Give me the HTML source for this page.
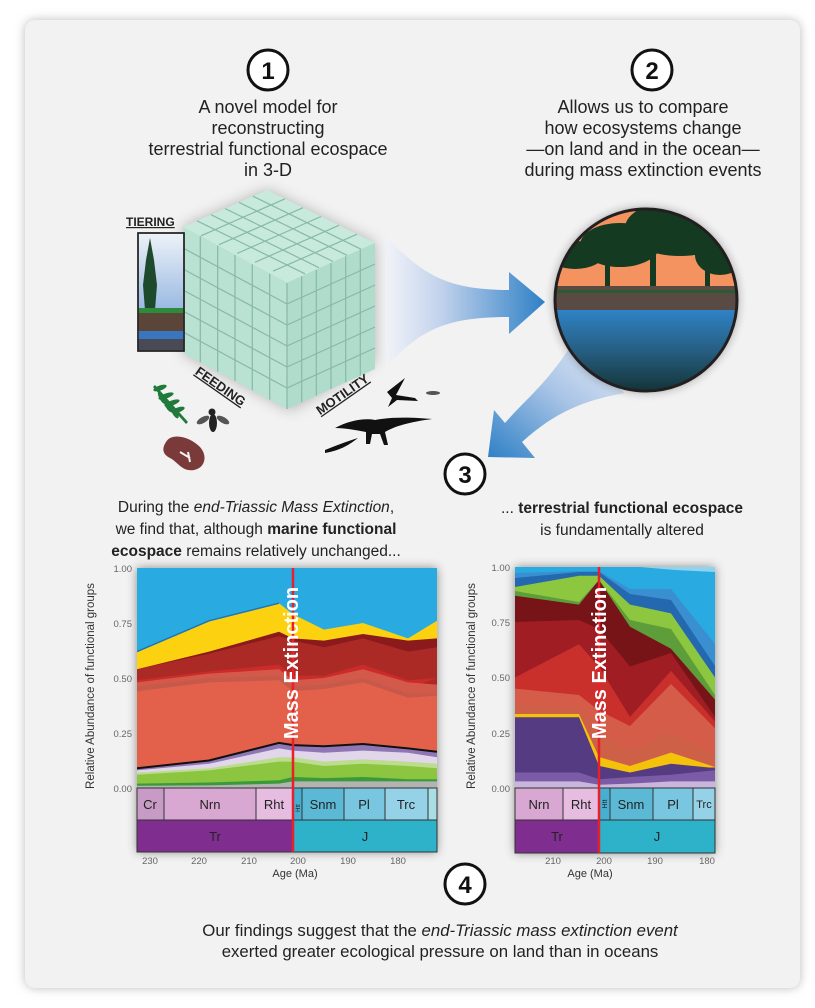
<!DOCTYPE html>
<html><head><meta charset="utf-8"><style>
html,body{margin:0;padding:0;background:#fff;}
svg{display:block;}
text{font-family:"Liberation Sans",Arial,sans-serif;}
</style></head><body>
<svg width="815" height="1008" viewBox="0 0 815 1008" xmlns="http://www.w3.org/2000/svg">
<defs>
<filter id="sh" x="-10%" y="-10%" width="120%" height="120%"><feGaussianBlur stdDeviation="5"/></filter>
<filter id="sh2" x="-20%" y="-20%" width="140%" height="140%"><feGaussianBlur stdDeviation="7"/></filter>
<linearGradient id="ar1" x1="0" y1="0" x2="1" y2="0"><stop offset="0" stop-color="#f2f4f8"/><stop offset="0.35" stop-color="#c2d2ec"/><stop offset="1" stop-color="#2e80c6"/></linearGradient>
<linearGradient id="ar2" x1="1" y1="0" x2="0" y2="1"><stop offset="0" stop-color="#e6edf7"/><stop offset="0.45" stop-color="#a9c4e6"/><stop offset="1" stop-color="#2e80c6"/></linearGradient>
<linearGradient id="sky" x1="0" y1="0" x2="0" y2="1"><stop offset="0" stop-color="#eef2f8"/><stop offset="1" stop-color="#6b9bd6"/></linearGradient>
<linearGradient id="water" x1="0" y1="0" x2="0" y2="1"><stop offset="0" stop-color="#2f82c6"/><stop offset="0.5" stop-color="#255a7a"/><stop offset="1" stop-color="#0f2a28"/></linearGradient>
<clipPath id="cc"><circle cx="646" cy="300" r="91"/></clipPath>
<clipPath id="p1"><rect x="137" y="568" width="300" height="220"/></clipPath>
<clipPath id="p2"><rect x="515" y="567" width="200" height="221"/></clipPath>
</defs>
<rect x="25" y="20" width="775" height="968" rx="10" fill="#bbb" filter="url(#sh)"/>
<rect x="25" y="20" width="775" height="968" rx="10" fill="#f2f2f2"/>

<g fill="#fff" stroke="#111" stroke-width="3">
<circle cx="268" cy="70" r="20"/><circle cx="652" cy="70" r="20"/><circle cx="465" cy="474" r="20"/><circle cx="465" cy="884" r="20"/>
</g>
<g font-size="24" font-weight="bold" text-anchor="middle" fill="#111">
<text x="268" y="79">1</text><text x="652" y="79">2</text><text x="465" y="483">3</text><text x="465" y="893">4</text>
</g>

<g text-anchor="middle" fill="#222">
<g font-size="18">
<text x="268" y="113">A novel model for</text><text x="268" y="134">reconstructing</text><text x="268" y="155">terrestrial functional ecospace</text><text x="268" y="176">in 3-D</text>
<text x="643" y="113">Allows us to compare</text><text x="643" y="134">how ecosystems change</text><text x="643" y="155">—on land and in the ocean—</text><text x="643" y="176">during mass extinction events</text>
</g>
<g font-size="15.5">
<text x="256" y="512">During the <tspan font-style="italic">end-Triassic Mass Extinction</tspan>,</text>
<text x="256" y="534">we find that, although <tspan font-weight="bold">marine functional</tspan></text>
<text x="256" y="556"><tspan font-weight="bold">ecospace</tspan> remains relatively unchanged...</text>
<text x="622" y="513">... <tspan font-weight="bold">terrestrial functional ecospace</tspan></text>
<text x="622" y="535">is fundamentally altered</text>
</g>
<g font-size="16.8">
<text x="440" y="936">Our findings suggest that the <tspan font-style="italic">end-Triassic mass extinction event</tspan></text>
<text x="440" y="957">exerted greater ecological pressure on land than in oceans</text>
</g>
</g>

<path d="M385,236 C420,270 440,290 509,290 L509,272 L545,302 L509,334 L509,317 C445,317 420,330 385,368 Z" fill="url(#ar1)"/>
<path d="M568,350 C545,385 525,400 505,423 L494,410 L488,457 L535,458 L522,442 C555,412 585,400 625,393 Z" fill="url(#ar2)"/>

<polygon points="267,190 183,227 183,353 290,410 375,362 375,243" fill="#888" filter="url(#sh2)" opacity="0.6"/>
<polygon points="267,190 183,227 287,283 375,243" fill="#c8eadd"/>
<polygon points="183,227 287,283 287,409 183,353" fill="#b9e2d3"/>
<polygon points="287,283 375,243 375,369 287,409" fill="#b0dccc"/>
<g stroke="#88b8a8" stroke-width="1.2" fill="none">
<line x1="253" y1="196.2" x2="361" y2="249.2"/><line x1="239" y1="202.3" x2="347" y2="255.3"/><line x1="225" y1="208.5" x2="333" y2="261.5"/><line x1="211" y1="214.7" x2="319" y2="267.7"/><line x1="197" y1="220.8" x2="305" y2="273.8"/>
<line x1="285" y1="198.8" x2="201" y2="235.8"/><line x1="303" y1="207.7" x2="219" y2="244.7"/><line x1="321" y1="216.5" x2="237" y2="253.5"/><line x1="339" y1="225.3" x2="255" y2="262.3"/><line x1="357" y1="234.2" x2="273" y2="271.2"/>
<line x1="200.3" y1="236.3" x2="200.3" y2="362.3"/><line x1="217.7" y1="245.7" x2="217.7" y2="371.7"/><line x1="235" y1="255" x2="235" y2="381"/><line x1="252.3" y1="264.3" x2="252.3" y2="390.3"/><line x1="269.7" y1="273.7" x2="269.7" y2="399.7"/>
<line x1="183" y1="248" x2="287" y2="304"/><line x1="183" y1="269" x2="287" y2="325"/><line x1="183" y1="290" x2="287" y2="346"/><line x1="183" y1="311" x2="287" y2="367"/><line x1="183" y1="332" x2="287" y2="388"/>
<line x1="301.7" y1="276.3" x2="301.7" y2="402.3"/><line x1="316.3" y1="269.7" x2="316.3" y2="395.7"/><line x1="331" y1="263" x2="331" y2="389"/><line x1="345.7" y1="256.3" x2="345.7" y2="382.3"/><line x1="360.3" y1="249.7" x2="360.3" y2="375.7"/>
<line x1="287" y1="304" x2="375" y2="264"/><line x1="287" y1="325" x2="375" y2="285"/><line x1="287" y1="346" x2="375" y2="306"/><line x1="287" y1="367" x2="375" y2="327"/><line x1="287" y1="388" x2="375" y2="348"/>
<line x1="287" y1="283" x2="287" y2="409"/>
</g>
<rect x="138" y="233" width="46" height="118" fill="url(#sky)" stroke="#222" stroke-width="1.5"/>
<polygon points="150,238 146,260 143,285 145,310 155,310 157,285 154,260" fill="#1d4a2c"/>
<rect x="138" y="308" width="46" height="5" fill="#2f8a3a"/>
<rect x="138" y="313" width="46" height="18" fill="#5a4538"/>
<rect x="138" y="331" width="46" height="8" fill="#3a76c0"/>
<rect x="138" y="339" width="46" height="12" fill="#4a4a56"/>
<rect x="138" y="233" width="46" height="118" fill="none" stroke="#222" stroke-width="1.5"/>
<text x="126" y="226" font-size="12" font-weight="bold" fill="#222" text-decoration="underline">TIERING</text>
<text transform="translate(218,390) rotate(35)" text-anchor="middle" font-size="13" font-weight="bold" fill="#222" text-decoration="underline">FEEDING</text>
<text transform="translate(345,398) rotate(-35)" text-anchor="middle" font-size="13" font-weight="bold" fill="#222" text-decoration="underline">MOTILITY</text>
<g fill="#1f7a3c"><path d="M155,385 L188,422 L186,424 L153,387 Z"/>
<ellipse cx="160" cy="388" rx="7" ry="2.5" transform="rotate(-20 160 388)"/><ellipse cx="166" cy="396" rx="8" ry="2.5" transform="rotate(-20 166 396)"/><ellipse cx="172" cy="403" rx="8" ry="2.5" transform="rotate(-20 172 403)"/><ellipse cx="178" cy="410" rx="7" ry="2.5" transform="rotate(-20 178 410)"/>
<ellipse cx="162" cy="398" rx="7" ry="2.5" transform="rotate(60 162 398)"/><ellipse cx="168" cy="406" rx="7" ry="2.5" transform="rotate(60 168 406)"/><ellipse cx="175" cy="413" rx="6" ry="2.5" transform="rotate(60 175 413)"/></g>
<g fill="#222"><ellipse cx="213" cy="423" rx="4" ry="9"/><circle cx="212" cy="412" r="3.5"/><ellipse cx="203" cy="420" rx="7" ry="3" fill="#555" transform="rotate(-30 203 420)"/><ellipse cx="223" cy="420" rx="7" ry="3" fill="#555" transform="rotate(30 223 420)"/></g>
<path d="M166,442 C172,432 190,437 200,447 C208,456 205,468 194,470 C182,472 178,462 170,458 C162,454 162,448 166,442 Z" fill="#7a3a3a"/>
<path d="M180,452 L190,458 M188,452 L190,462" stroke="#f2f2f2" stroke-width="2" fill="none"/>
<g fill="#111">
<path d="M335,428 C350,420 365,418 375,420 C395,416 420,418 432,419 C410,422 395,426 385,432 L388,445 L384,445 L380,434 L372,434 L370,444 L366,444 L366,432 C355,430 345,428 335,428 Z"/>
<path d="M387,392 L405,378 L396,395 L415,398 L418,401 L397,400 L388,407 L392,398 Z"/>
<ellipse cx="433" cy="393" rx="7" ry="2" fill="#555"/>
<path d="M325,450 C335,446 345,442 358,438 C350,444 342,450 325,453 Z"/>
</g>

<circle cx="646" cy="300" r="91" fill="#222" filter="url(#sh)" opacity="0.5"/>
<g clip-path="url(#cc)">
<rect x="550" y="205" width="200" height="90" fill="#f4935f"/>
<g fill="#143a22">
<ellipse cx="620" cy="245" rx="40" ry="22"/><ellipse cx="680" cy="228" rx="55" ry="28"/><ellipse cx="720" cy="255" rx="25" ry="20"/><ellipse cx="575" cy="255" rx="28" ry="14"/>
<rect x="650" y="240" width="6" height="55"/><rect x="605" y="255" width="5" height="35"/><rect x="705" y="255" width="5" height="35"/>
</g>
<rect x="550" y="286" width="200" height="25" fill="#5a4a44"/>
<rect x="550" y="290" width="200" height="3" fill="#2c5a30"/>
<rect x="550" y="310" width="200" height="90" fill="url(#water)"/>
</g>
<circle cx="646" cy="300" r="91" fill="none" stroke="#231f20" stroke-width="3"/>

<rect x="137" y="568" width="300" height="284" fill="#333" filter="url(#sh)" opacity="0.55"/>
<g clip-path="url(#p1)">
<rect x="137" y="568" width="300" height="220" fill="#29abe2"/>
<polygon fill="#fcd10f" points="137,788 137,651.6 209,620.8 279,603.2 293,614.2 324,629.6 363,623 408,638.4 437,620.8 437,788"/>
<polyline fill="none" stroke="#1b75bb" stroke-width="1.5" points="137,651.6 209,620.8 279,603.2"/>
<polygon fill="#8a1a1c" points="137,788 137,669.2 209,651.6 279,631.8 293,638.4 324,640.6 363,634 408,640.6 437,638.4 437,788"/>
<polygon fill="#ac2a26" points="137,788 137,669.2 209,653.8 279,636.2 293,640.6 324,647.2 363,638.4 408,651.6 437,647.2 437,788"/>
<polygon fill="#cc2b2a" points="137,788 137,680.2 209,671.4 279,664.8 293,675.8 324,675.8 363,664.8 408,680.2 437,678"/>
<polygon fill="#d35a4a" points="137,788 137,682.4 209,673.6 279,669.2 293,680.2 324,678 363,669.2 408,682.4 437,684.6 437,788"/>
<polygon fill="#c7594a" points="137,788 137,686.8 209,678 279,675.8 293,686.8 324,684.6 363,678 408,693.4 437,693.4 437,788"/>
<polygon fill="#e3614a" points="137,788 137,691.2 209,682.4 279,680.2 293,691.2 324,689 363,682.4 408,697.8 437,695.6 437,788"/>
<polygon fill="#8f77b6" points="137,788 137,768.2 209,760.5 279,742.9 293,745.1 324,746.2 363,744 408,748.4 437,751.7 437,788"/>
<polygon fill="#e2d6ea" points="137,788 137,770.4 209,763.8 279,748.4 293,750.6 324,752.8 363,750.6 408,752.8 437,757.2 437,788"/>
<polygon fill="#bcdc8e" points="137,788 137,772.6 209,768.2 279,757.2 293,757.2 324,761.6 363,759.4 408,761.6 437,763.8 437,788"/>
<polygon fill="#8cc53f" points="137,788 137,774.8 209,770.4 279,761.6 293,761.6 324,766 363,763.8 408,766 437,768.2 437,788"/>
<polygon fill="#3a9a3a" points="137,788 137,783.6 209,782.5 279,780.3 293,777 324,778.1 363,777 408,779.2 437,779.2 437,788"/>
<polygon fill="#b3b3b3" points="137,788 137,785.8 209,785.4 279,783.6 293,781.4 324,781.4 363,781.4 408,781.4 437,781.4 437,788"/>
<polyline fill="none" stroke="#111" stroke-width="2" points="137,768.2 209,760.5 279,742.9 293,745.1 324,746.2 363,744 408,748.4 437,751.7"/>
</g>
<g stroke="#333" stroke-width="1">
<rect x="137" y="788" width="27" height="32" fill="#c79bc6"/><rect x="164" y="788" width="92" height="32" fill="#d9a8d2"/><rect x="256" y="788" width="37" height="32" fill="#e6bde0"/>
<rect x="293" y="788" width="9" height="32" fill="#46b0d2"/><rect x="302" y="788" width="42" height="32" fill="#5bb9d6"/><rect x="344" y="788" width="41" height="32" fill="#78c6e0"/><rect x="385" y="788" width="43" height="32" fill="#96d2e7"/><rect x="428" y="788" width="9" height="32" fill="#a9dfe4"/>
<rect x="137" y="820" width="156" height="32" fill="#7f2d8f"/><rect x="293" y="820" width="144" height="32" fill="#2eb2c9"/>
</g>
<g font-size="13" text-anchor="middle" fill="#222">
<text x="150" y="809">Cr</text><text x="210" y="809">Nrn</text><text x="274" y="809">Rht</text><text x="323" y="809">Snm</text><text x="364" y="809">Pl</text><text x="406" y="809">Trc</text>
<text x="215" y="841">Tr</text><text x="365" y="841">J</text>
</g>
<text transform="translate(300,808) rotate(-90)" font-size="6" text-anchor="middle" fill="#222">Htt</text>
<line x1="293" y1="568" x2="293" y2="852" stroke="#e8202a" stroke-width="2.5"/>
<text transform="translate(298,663) rotate(-90)" text-anchor="middle" font-size="20" font-weight="bold" fill="#fff">Mass Extinction</text>
<g font-size="9.5" fill="#666" text-anchor="end">
<text x="132" y="572">1.00</text><text x="132" y="627">0.75</text><text x="132" y="682">0.50</text><text x="132" y="737">0.25</text><text x="132" y="792">0.00</text>
</g>
<g font-size="9.5" fill="#666" text-anchor="middle">
<text x="150" y="864">230</text><text x="199" y="864">220</text><text x="249" y="864">210</text><text x="298" y="864">200</text><text x="348" y="864">190</text><text x="398" y="864">180</text>
</g>
<text x="295" y="877" font-size="11" fill="#333" text-anchor="middle">Age (Ma)</text>
<text transform="translate(94,686) rotate(-90)" font-size="11.5" fill="#333" text-anchor="middle">Relative Abundance of functional groups</text>

<rect x="515" y="567" width="200" height="286" fill="#333" filter="url(#sh)" opacity="0.55"/>
<g clip-path="url(#p2)">
<rect x="515" y="567" width="200" height="221" fill="#29abe2"/>
<polygon fill="#8fd3ee" points="640,567 715,567 715,572 675,570"/>
<polygon fill="#3a8fd0" points="515,788 515,573 579,571 599,571 630,589 671,589 715,644 715,788"/>
<polygon fill="#2468b0" points="515,788 515,578 579,572 599,572 630,594 671,600 715,666 715,788"/>
<polygon fill="#8dc63f" points="515,788 515,587 579,575.8 599,575.8 630,604.6 671,613.4 715,677.5 715,788"/>
<polygon fill="#5e9e3a" points="515,788 515,591 579,602 599,580 630,620 671,629 715,695 715,788"/>
<polygon fill="#761417" points="515,788 515,595.7 579,604.6 599,580 630,626.7 671,648.8 715,699.6 715,788"/>
<polygon fill="#a11d24" points="515,788 515,622 579,620 599,629 630,666.5 671,653 715,717 715,788"/>
<polygon fill="#c9302c" points="515,788 515,677.5 579,644.3 599,666.5 630,717 671,670.9 715,721.7 715,788"/>
<polygon fill="#d65c4a" points="515,788 515,688.6 579,695 599,710.6 630,726 671,684 715,728.3 715,788"/>
<polygon fill="#cf6048" points="515,788 515,704 579,708.4 599,732.8 630,750.4 671,732.8 715,754.8 715,788"/>
<polygon fill="#f5c20b" points="515,788 515,714 579,714 599,757 630,766 671,752.6 715,767"/>
<polygon fill="#553b82" points="515,788 515,717.3 579,717.3 599,765.9 630,772.5 671,763.7 715,768.1 715,788"/>
<polygon fill="#7b5ba6" points="515,788 515,772.5 579,772.5 599,779.2 630,777 671,774.7 715,770.3 715,788"/>
<polygon fill="#c9b6dc" points="515,788 515,781.4 579,781.4 599,784.7 630,783.6 671,781.4 715,781.4 715,788"/>
</g>
<g stroke="#333" stroke-width="1">
<rect x="515" y="788" width="48" height="32" fill="#d9a8d2"/><rect x="563" y="788" width="36" height="32" fill="#e6bde0"/>
<rect x="599" y="788" width="11" height="32" fill="#46b0d2"/><rect x="610" y="788" width="43" height="32" fill="#5bb9d6"/><rect x="653" y="788" width="40" height="32" fill="#78c6e0"/><rect x="693" y="788" width="22" height="32" fill="#96d2e7"/>
<rect x="515" y="820" width="84" height="33" fill="#7f2d8f"/><rect x="599" y="820" width="116" height="33" fill="#2eb2c9"/>
</g>
<g font-size="13" text-anchor="middle" fill="#222">
<text x="539" y="809">Nrn</text><text x="581" y="809">Rht</text><text x="631" y="809">Snm</text><text x="673" y="809">Pl</text><text x="704" y="808" font-size="11">Trc</text>
<text x="557" y="841">Tr</text><text x="657" y="841">J</text>
</g>
<text transform="translate(607,804) rotate(-90)" font-size="7" text-anchor="middle" fill="#222">Htt</text>
<line x1="599" y1="567" x2="599" y2="853" stroke="#e8202a" stroke-width="2.5"/>
<text transform="translate(606,663) rotate(-90)" text-anchor="middle" font-size="20" font-weight="bold" fill="#fff">Mass Extinction</text>
<g font-size="9.5" fill="#666" text-anchor="end">
<text x="510" y="571">1.00</text><text x="510" y="626">0.75</text><text x="510" y="681">0.50</text><text x="510" y="737">0.25</text><text x="510" y="792">0.00</text>
</g>
<g font-size="9.5" fill="#666" text-anchor="middle">
<text x="553" y="864">210</text><text x="604" y="864">200</text><text x="655" y="864">190</text><text x="707" y="864">180</text>
</g>
<text x="590" y="877" font-size="11" fill="#333" text-anchor="middle">Age (Ma)</text>
<text transform="translate(475,686) rotate(-90)" font-size="11.5" fill="#333" text-anchor="middle">Relative Abundance of functional groups</text>
</svg>
</body></html>
